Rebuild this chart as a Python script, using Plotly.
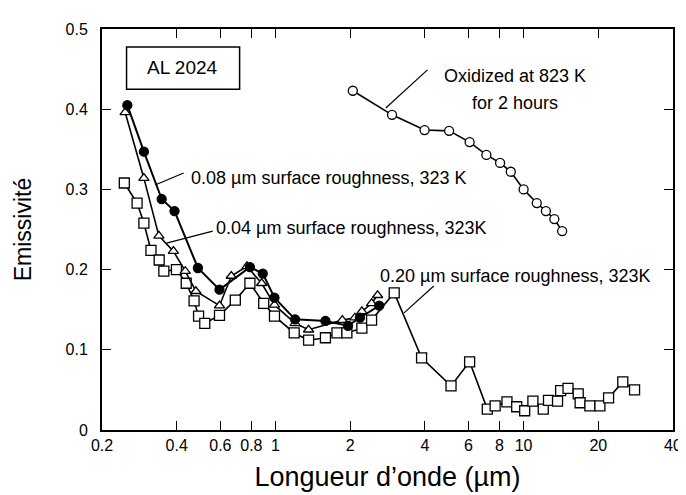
"""Emissivity of AL 2024 vs wavelength, several surface states."""

import plotly.graph_objects as go

# 0.08 um roughness, 323 K (filled circles)
wl_008 = [0.253, 0.295, 0.348, 0.392, 0.487, 0.595, 0.789, 0.889, 0.991,
          1.20, 1.59, 1.96, 2.19, 2.62]
em_008 = [0.405, 0.347, 0.288, 0.273, 0.202, 0.175, 0.203, 0.195, 0.165,
          0.138, 0.136, 0.130, 0.140, 0.155]

# 0.04 um roughness, 323 K (open triangles)
wl_004 = [0.248, 0.295, 0.339, 0.388, 0.433, 0.478, 0.595, 0.664, 0.768,
          0.880, 0.991, 1.20, 1.36, 1.86, 2.09, 2.23, 2.44, 2.58]
em_004 = [0.396, 0.314, 0.242, 0.223, 0.198, 0.173, 0.155, 0.192, 0.204,
          0.183, 0.156, 0.133, 0.125, 0.137, 0.140, 0.148, 0.158, 0.168]

# 0.20 um roughness, 323 K (open squares)
wl_020 = [0.246, 0.277, 0.295, 0.315, 0.340, 0.355, 0.399, 0.437, 0.470,
          0.490, 0.519, 0.595, 0.689, 0.789, 0.897, 0.991, 1.19, 1.36,
          1.59, 1.77, 1.94, 2.23, 2.44, 3.01, 3.88, 5.10, 6.06,
          7.14, 7.68, 8.57, 9.38, 10.1, 10.9, 12.0, 12.6, 13.7, 14.1,
          15.1, 16.6, 16.9, 18.5, 20.3, 22.0, 25.1, 28.0]
em_020 = [0.308, 0.283, 0.258, 0.224, 0.212, 0.198, 0.200, 0.183, 0.161,
          0.142, 0.133, 0.143, 0.162, 0.183, 0.158, 0.142, 0.121, 0.112,
          0.115, 0.121, 0.121, 0.127, 0.137, 0.171, 0.090, 0.055, 0.085,
          0.026, 0.030, 0.035, 0.029, 0.024, 0.036, 0.026, 0.037, 0.036,
          0.049, 0.052, 0.045, 0.034, 0.030, 0.030, 0.040, 0.060, 0.050]

# oxidized at 823 K for 2 hours (open circles)
wl_ox = [2.05, 2.95, 3.99, 5.01, 6.06, 7.08, 8.04, 8.88, 10.0, 11.3, 12.3,
         13.3, 14.3]
em_ox = [0.423, 0.393, 0.374, 0.373, 0.359, 0.343, 0.333, 0.322, 0.300,
         0.283, 0.273, 0.263, 0.248]

x_ticks = [0.2, 0.4, 0.6, 0.8, 1, 2, 4, 6, 8, 10, 20, 40]
x_tick_text = ["0.2", "0.4", "0.6", "0.8", "1", "2", "4", "6", "8", "10",
               "20", "40"]
y_ticks = [0, 0.1, 0.2, 0.3, 0.4, 0.5]

FONT = "Liberation Sans, Arial, sans-serif"


def series(x, y, symbol, fill, size, width=1.6):
    return go.Scatter(
        x=x, y=y, mode="lines+markers",
        line=dict(color="black", width=width),
        marker=dict(symbol=symbol, size=size, color=fill,
                    line=dict(color="black", width=1.3)),
        showlegend=False)


fig = go.Figure()
fig.add_trace(series(wl_020, em_020, "square", "white", 10))
fig.add_trace(series(wl_004, em_004, "triangle-up", "white", 9))
fig.add_trace(series(wl_008, em_008, "circle", "black", 9, width=2))
fig.add_trace(series(wl_ox, em_ox, "circle", "white", 9))

# leader lines and label box, in paper coords
leaders = [
    (0.093, 0.611, 0.143, 0.641),
    (0.113, 0.466, 0.194, 0.496),
    (0.529, 0.292, 0.581, 0.359),
    (0.497, 0.803, 0.570, 0.898),
]
for x0, y0, x1, y1 in leaders:
    fig.add_shape(type="line", xref="paper", yref="paper",
                  x0=x0, y0=y0, x1=x1, y1=y1,
                  line=dict(color="black", width=1.2))
fig.add_shape(type="rect", xref="paper", yref="paper",
              x0=0.043, x1=0.241, y0=0.850, y1=0.955,
              line=dict(color="black", width=1.5))

labels = [
    ("AL 2024", 0.141, 0.903, "center", 19),
    ("0.08 \u00b5m surface roughness, 323 K", 0.153, 0.628, "left", 18),
    ("0.04 \u00b5m surface roughness, 323K", 0.196, 0.504, "left", 18),
    ("0.20 \u00b5m surface roughness, 323K", 0.483, 0.384, "left", 18),
    ("Oxidized at 823 K", 0.723, 0.883, "center", 18),
    ("for 2 hours", 0.723, 0.815, "center", 18),
]
for txt, x, y, anchor, size in labels:
    fig.add_annotation(text=txt, xref="paper", yref="paper", x=x, y=y,
                       xanchor=anchor, yanchor="middle", showarrow=False,
                       font=dict(family=FONT, size=size, color="black"))

fig.update_xaxes(
    type="log", range=[-0.69897, 1.60206],
    tickvals=x_ticks, ticktext=x_tick_text,
    ticks="inside", ticklen=9, tickwidth=1.3, tickcolor="black",
    showline=True, linecolor="black", linewidth=2, mirror="ticks",
    showgrid=False, zeroline=False, ticklabeloverflow="allow",
    tickfont=dict(family=FONT, size=16, color="black"),
    title=dict(text="Longueur d\u2019onde (\u00b5m)", standoff=14,
               font=dict(family=FONT, size=27, color="black")))
fig.update_yaxes(
    range=[0, 0.5], tickvals=y_ticks,
    ticks="inside", ticklen=9, tickwidth=1.3, tickcolor="black",
    showline=True, linecolor="black", linewidth=2, mirror="ticks",
    showgrid=False, zeroline=False, ticklabelstandoff=9,
    tickfont=dict(family=FONT, size=16, color="black"),
    title=dict(text="Emissivit\u00e9", standoff=27,
               font=dict(family=FONT, size=23, color="black")))

fig.update_layout(
    width=686, height=495,
    margin=dict(l=94, r=12, t=21, b=73),
    paper_bgcolor="white", plot_bgcolor="white",
    font=dict(family=FONT, color="black"))

fig.write_html("out.html")
